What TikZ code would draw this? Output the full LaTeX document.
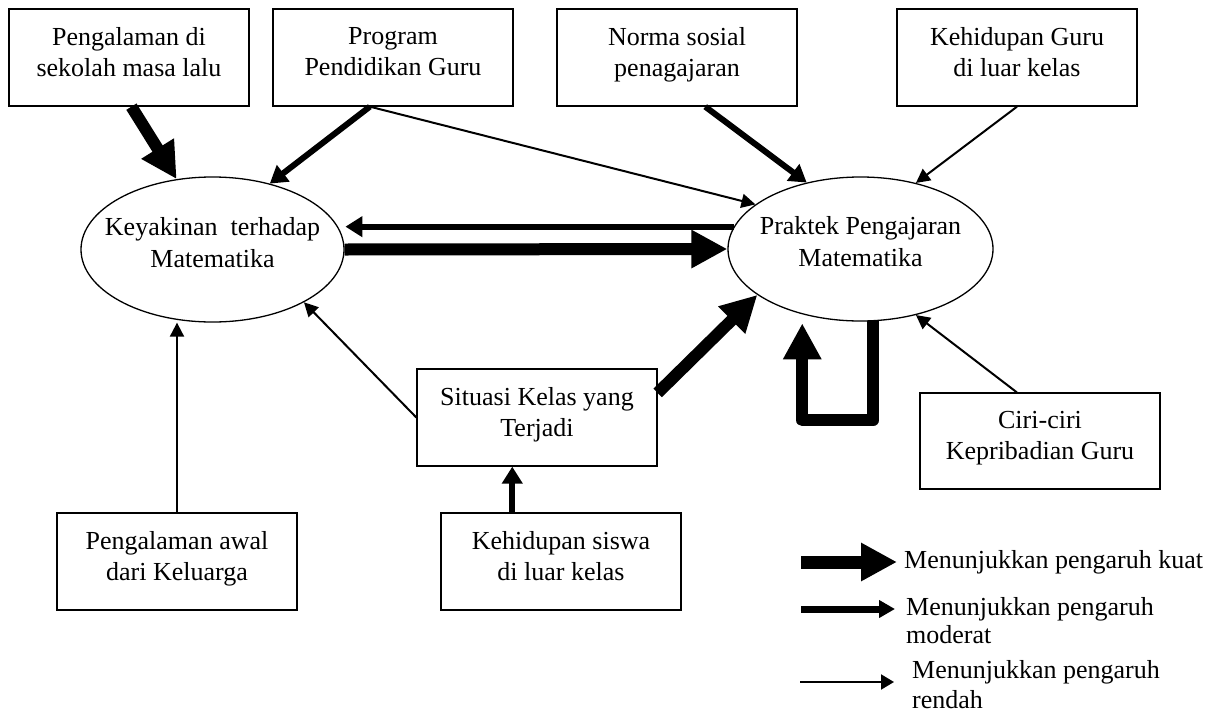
\documentclass[tikz,border=0pt]{standalone}
\usepackage{fontspec}
\setmainfont{Liberation Serif}
\usetikzlibrary{arrows.meta,calc,shapes.geometric}
\newcommand{\lowend}{\rule[-12pt]{0pt}{0pt}}
\newcommand{\lowell}{\rule[-15pt]{0pt}{0pt}}
\begin{document}
\begin{tikzpicture}[x=1pt,y=-1pt,
  txt/.style={font=\fontsize{26}{31}\selectfont, inner sep=0pt},
  box/.style={draw, line width=1.3pt, rectangle, minimum width=240pt, minimum height=97pt,
    inner sep=0pt, align=center, font=\fontsize{26}{31}\selectfont},
  ell/.style={draw, line width=1.3pt, ellipse, inner sep=-25pt, align=center,
    font=\fontsize{26}{32}\selectfont},
  strongarr/.style={line width=12pt, -{Triangle[length=36pt,width=36pt]}},
  modarr/.style={line width=6pt, -{Triangle[length=17pt,width=20pt]}},
  thinarr/.style={line width=2pt, -{Triangle[length=14pt,width=14pt]}}]
\fill[white] (0,0) rectangle (1220,715);
\useasboundingbox (0,0) rectangle (1220,715);

% top boxes
\node[box] (b1) at (129,57.5) {Pengalaman di\\sekolah masa lalu\lowend};
\node[box] (b2) at (393,57.5) {Program\\Pendidikan Guru\lowend};
\node[box] (b3) at (677,57.5) {Norma sosial\\penagajaran\lowend};
\node[box] (b4) at (1017,57.5) {Kehidupan Guru\\di luar kelas\lowend};

% ellipses
\node[ell, minimum width=263pt, minimum height=145pt] (L) at (212.5,249.5) {Keyakinan~~terhadap\\Matematika\lowell};
\node[ell, minimum width=265pt, minimum height=144pt] (R) at (860.5,249) {Praktek Pengajaran\\Matematika\lowell};

% lower boxes
\node[box] (S) at (537,417.5) {Situasi Kelas yang\\Terjadi\lowend};
\node[box] (PA) at (177,561.5) {Pengalaman awal\\dari Keluarga\lowend};
\node[box] (KS) at (561,561.5) {Kehidupan siswa\\di luar kelas\lowend};
\node[box, minimum height=96pt] (C) at (1040,441) {Ciri-ciri\\Kepribadian Guru\lowend};

% connectors
\draw[strongarr] ($(b1.south west)!0.51!(b1.south east)$) -- (L.117);
\draw[modarr] ($(b2.south west)!0.404!(b2.south east)$) -- (L.49);
\draw[thinarr] ($(b2.south west)!0.404!(b2.south east)$) -- (R.157);
\draw[modarr] ($(b3.south west)!0.617!(b3.south east)$) -- (R.129);
\draw[thinarr] (b4.south) -- (R.50);
\draw[modarr, shorten >=7pt] (R.170) -- (L.10 |- R.170);
\draw[strongarr] (L.east) -- (R.west);
\draw[strongarr] ($(S.north east)!0.25!(S.south east)$) -- (R.204);
\draw[strongarr, line join=round] (R.-80) -- ++(0,99) -- ++(-71,0) -- ++(0,-97);
\draw[thinarr] ($(C.north west)!0.404!(C.north east)$) -- (R.-50);
\draw[thinarr] (PA.north) -- (PA.north |- L.south);
\draw[thinarr] (S.west) -- (L.-30);
\coordinate (ksx) at ($(KS.north west)!0.298!(KS.north east)$);
\draw[modarr] (ksx) -- (ksx |- S.south);

% legend
\coordinate (k1) at (801,562);
\coordinate (m1) at (801,609);
\coordinate (t1) at (800,682);
\node[txt, anchor=base west] (lk) at (904,568) {Menunjukkan pengaruh kuat};
\node[txt, anchor=north west, align=left, font=\fontsize{26}{28}\selectfont] (lm) at (906,597) {Menunjukkan pengaruh\\moderat};
\node[txt, anchor=north west, align=left, font=\fontsize{26}{30}\selectfont] (lt) at (912,660) {Menunjukkan pengaruh\\rendah};
\draw[strongarr, line width=13pt, shorten >=7pt] (k1) -- (k1 -| lk.west);
\draw[line width=7pt, -{Triangle[length=16pt,width=17pt]}, shorten >=11pt] (m1) -- (m1 -| lm.west);
\draw[line width=2pt, -{Triangle[length=13pt,width=15pt]}, shorten >=18pt] (t1) -- (t1 -| lt.west);
\end{tikzpicture}
\end{document}
